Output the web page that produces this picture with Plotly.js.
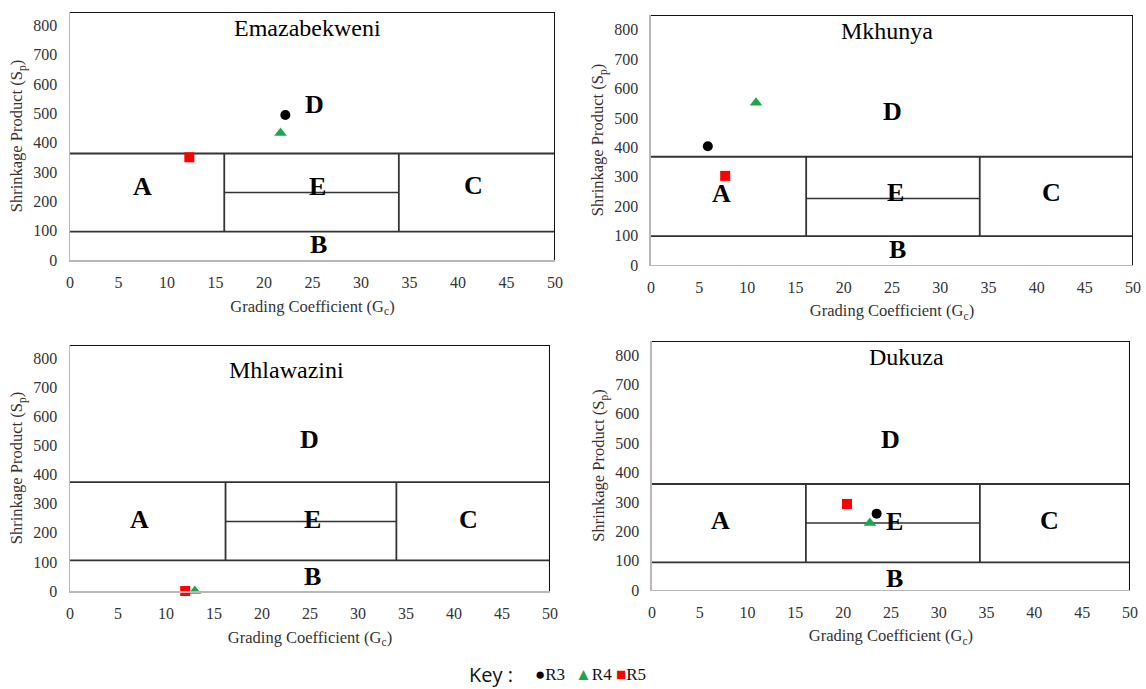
<!DOCTYPE html>
<html><head><meta charset="utf-8">
<script src="https://cdn.plot.ly/plotly-3.0.1.min.js"></script>
<style>html,body{margin:0;padding:0;background:#fff;} #chart{width:1146px;height:689px;}</style>
</head><body><div id="chart"></div>
<script>
// ---------- data ----------
const sites = ["Emazabekweni", "Mkhunya", "Mhlawazini", "Dukuza"];
const seriesNames = ["R3", "R4", "R5"];
const gcR3 = [22.2, 5.9, null, 23.5];
const spR3 = [494, 404, null, 260];
const gcR4 = [21.7, 10.9, 13.0, 22.8];
const spR4 = [433, 552, 0, 228];
const gcR5 = [12.3, 7.7, 12.0, 20.4];
const spR5 = [350, 303, 0, 293];
// zone boundaries as drawn in each panel
const spUpper = [363, 368, 374, 361];
const spLower = [97, 98, 105, 94];
const gcLeft = [15.9, 16.1, 16.2, 16.1];
const gcRight = [33.9, 34.1, 34.0, 34.3];
const spSplitE = [230, 226, 239, 228];
const gcMax = 50;
const spMax = [845, 850, 845, 848];
const zoneNames = ["A", "B", "C", "D", "E"];
const xTickVals = [0, 5, 10, 15, 20, 25, 30, 35, 40, 45, 50];
const yTickVals = [0, 100, 200, 300, 400, 500, 600, 700, 800];
const xTitle = "Grading Coefficient (G<sub>c</sub>)";
const yTitle = "Shrinkage Product (S<sub>p</sub>)";

// ---------- layout config (positions / styles) ----------
const domains = [
  {x: [0.0611, 0.4843], y: [0.6226, 0.9826]},
  {x: [0.5680, 0.9887], y: [0.6154, 0.9782]},
  {x: [0.0611, 0.4799], y: [0.1422, 0.4993]},
  {x: [0.5689, 0.9860], y: [0.1437, 0.5051]}
];
// label anchor positions (data coords) per panel: A,B,C,D,E then title
const labelPos = [
  {A:[7.5,252], B:[25.6,53], C:[41.6,255], D:[25.2,530], E:[25.5,250], T:[24.5,792]},
  {A:[7.3,242], B:[25.6,51], C:[41.5,245], D:[25.1,523], E:[25.4,245], T:[24.5,794]},
  {A:[7.2,244], B:[25.3,49], C:[41.5,244], D:[25.0,522], E:[25.3,244], T:[22.6,758]},
  {A:[7.2,236], B:[25.4,40], C:[41.6,238], D:[25.0,514], E:[25.4,233], T:[26.6,794]}
];
const serif = "Liberation Serif, Times New Roman, serif";
const lineCol = "#333333";
const colors = {R3: "#000000", R4: "#1fa64a", R5: "#ff0000"};
const symbols = {R3: "circle", R4: "triangle-up", R5: "square"};

const seriesGc = {R3: gcR3, R4: gcR4, R5: gcR5};
const seriesSp = {R3: spR3, R4: spR4, R5: spR5};

const traces = [];
const layout = {
  width: 1146, height: 689,
  margin: {l: 0, r: 0, t: 0, b: 0},
  paper_bgcolor: "#fff", plot_bgcolor: "#fff",
  showlegend: false,
  annotations: []
};

sites.forEach((site, i) => {
  const n = i + 1;
  const xa = "x" + (n === 1 ? "" : n), ya = "y" + (n === 1 ? "" : n);
  const xk = "xaxis" + (n === 1 ? "" : n), yk = "yaxis" + (n === 1 ? "" : n);
  const seg = (xs, ys, col, w) => traces.push({
    type: "scatter", mode: "lines", x: xs, y: ys, xaxis: xa, yaxis: ya,
    line: {color: col, width: w}, hoverinfo: "skip", cliponaxis: false
  });
  // zone boundaries
  seg([0, gcMax], [spUpper[i], spUpper[i]], lineCol, 1.8);
  seg([0, gcMax], [spLower[i], spLower[i]], lineCol, 1.8);
  seg([gcLeft[i], gcLeft[i]], [spLower[i], spUpper[i]], lineCol, 1.8);
  seg([gcRight[i], gcRight[i]], [spLower[i], spUpper[i]], lineCol, 1.8);
  seg([gcLeft[i], gcRight[i]], [spSplitE[i], spSplitE[i]], lineCol, 1.5);
  // frame top / right
  seg([0, gcMax], [spMax[i], spMax[i]], "#111", 2);
  seg([gcMax, gcMax], [0, spMax[i]], "#111", 2);

  // data points
  seriesNames.forEach(s => {
    const g = seriesGc[s][i], p = seriesSp[s][i];
    if (g === null || p === null) return;
    traces.push({
      type: "scatter", mode: "markers", name: s, x: [g], y: [p],
      xaxis: xa, yaxis: ya, cliponaxis: false,
      marker: {color: colors[s], symbol: symbols[s], size: s === "R4" ? 11 : 10,
               line: {width: 0}}
    });
  });

  layout[xk] = {
    domain: domains[i].x, anchor: ya, range: [0, gcMax],
    tickvals: xTickVals, ticktext: xTickVals.map(String),
    showgrid: false, zeroline: false, showline: true, linecolor: "#b8b8b8", linewidth: 1.5,
    ticks: "outside", ticklen: 7, tickcolor: "rgba(0,0,0,0)",
    tickfont: {family: serif, size: 16, color: "#333"},
    title: {text: xTitle, font: {family: serif, size: 16.5, color: "#333"}, standoff: 10},
    automargin: false, fixedrange: true
  };
  layout[yk] = {
    domain: domains[i].y, anchor: xa, range: [0, spMax[i]],
    tickvals: yTickVals, ticktext: yTickVals.map(String),
    showgrid: false, zeroline: false, showline: true, linecolor: "#b8b8b8", linewidth: 1.5,
    ticks: "outside", ticklen: 8, tickcolor: "rgba(0,0,0,0)",
    tickfont: {family: serif, size: 16, color: "#333"},
    title: {text: yTitle, font: {family: serif, size: 16.5, color: "#3a2e2e"}, standoff: 6},
    automargin: false, fixedrange: true
  };

  zoneNames.forEach(z => {
    layout.annotations.push({
      xref: xa, yref: ya, x: labelPos[i][z][0], y: labelPos[i][z][1],
      text: "<b>" + z + "</b>", showarrow: false,
      font: {family: serif, size: 26, color: "#000"}
    });
  });
  layout.annotations.push({
    xref: xa, yref: ya, x: labelPos[i].T[0], y: labelPos[i].T[1],
    text: site, showarrow: false, font: {family: serif, size: 24, color: "#000"}
  });
});

// key
const keyY = (689 - 674) / 689;
layout.annotations.push(
  {xref: "paper", yref: "paper", x: 467/1146, y: keyY, xanchor: "left", yanchor: "middle",
   text: "Key :", showarrow: false, font: {family: "Open Sans, Noto Sans, sans-serif", size: 20, color: "#111"}},
  {xref: "paper", yref: "paper", x: 533/1146, y: keyY, xanchor: "left", yanchor: "middle",
   text: "<span style='color:" + colors.R3 + "'>●</span>" + seriesNames[0], showarrow: false,
   font: {family: serif, size: 17, color: "#111"}},
  {xref: "paper", yref: "paper", x: 573/1146, y: keyY, xanchor: "left", yanchor: "middle",
   text: "<span style='color:" + colors.R4 + "'>▲</span>" + seriesNames[1], showarrow: false,
   font: {family: serif, size: 17, color: "#111"}},
  {xref: "paper", yref: "paper", x: 614/1146, y: keyY, xanchor: "left", yanchor: "middle",
   text: "<span style='color:" + colors.R5 + "'>■</span>" + seriesNames[2], showarrow: false,
   font: {family: serif, size: 17, color: "#111"}}
);

Plotly.newPlot("chart", traces, layout, {displayModeBar: false, staticPlot: true});
</script>
</body></html>
